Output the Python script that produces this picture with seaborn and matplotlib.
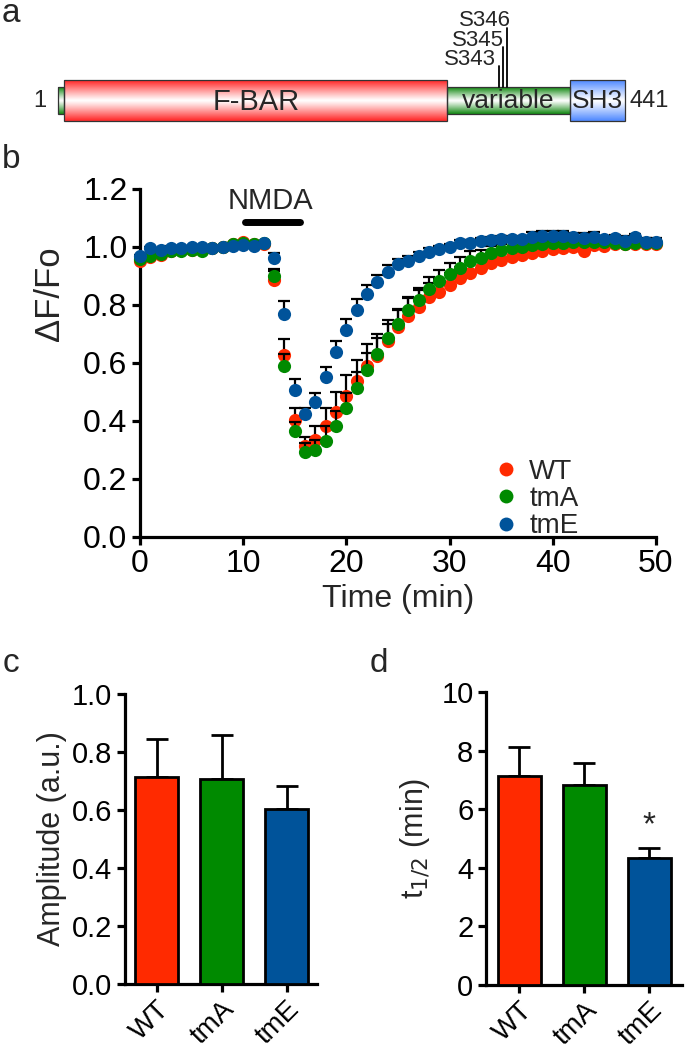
import numpy as np
import pandas as pd
import matplotlib
matplotlib.use("Agg")
import matplotlib.pyplot as plt
import seaborn as sns
from matplotlib.patches import Rectangle
from matplotlib.lines import Line2D
from matplotlib.ticker import FormatStrFormatter

sns.set_theme(style="ticks")
plt.rcParams["font.family"] = ["Liberation Sans", "DejaVu Sans"]

# ---------------- data ----------------
# panel a : domain map
protein_length = 441
domain_names = ["F-BAR", "variable", "SH3"]
domain_start = [6, 303, 398]
domain_end = [303, 398, 441]
site_names = ["S343", "S345", "S346"]
site_aa = [343, 345, 346]

# panel b : time course
time_min = list(range(51))
wt = [0.953, 0.964, 0.973, 0.985, 0.990, 0.990, 0.990, 0.995, 1.000, 1.010,
      1.016, 1.010, 1.010, 0.886, 0.628, 0.403, 0.314, 0.334, 0.383, 0.432,
      0.485, 0.538, 0.591, 0.625, 0.677, 0.723, 0.763, 0.792, 0.826, 0.846,
      0.869, 0.892, 0.912, 0.929, 0.946, 0.955, 0.964, 0.972, 0.981, 0.987,
      0.992, 0.995, 1.001, 0.985, 1.007, 1.005, 1.010, 1.010, 1.010, 1.010,
      1.010]
tma = [0.960, 0.969, 0.976, 0.985, 0.985, 0.990, 0.986, 0.995, 1.000, 1.010,
       1.013, 1.012, 1.013, 0.900, 0.590, 0.367, 0.292, 0.300, 0.332, 0.383,
       0.446, 0.513, 0.576, 0.632, 0.686, 0.733, 0.783, 0.817, 0.854, 0.883,
       0.907, 0.929, 0.952, 0.961, 0.978, 0.990, 0.998, 1.001, 1.007, 1.010,
       1.013, 1.015, 1.016, 1.018, 1.018, 1.018, 1.013, 1.010, 1.013, 1.013,
       1.013]
tme = [0.969, 0.995, 0.990, 0.998, 0.998, 1.001, 1.001, 0.998, 0.999, 1.004,
       1.007, 1.004, 1.013, 0.961, 0.768, 0.507, 0.424, 0.467, 0.553, 0.638,
       0.714, 0.783, 0.837, 0.879, 0.915, 0.940, 0.953, 0.969, 0.984, 0.992,
       1.001, 1.013, 1.015, 1.020, 1.024, 1.027, 1.027, 1.026, 1.036, 1.038,
       1.038, 1.039, 1.036, 1.030, 1.033, 1.027, 1.030, 1.022, 1.036, 1.018,
       1.016]
wt_sem = [0.005] * 13 + [0.030, 0.055, 0.041, 0.032, 0.049, 0.061, 0.067,
          0.075, 0.072, 0.073, 0.075, 0.070, 0.062, 0.060, 0.060, 0.050, 0.045,
          0.040, 0.038, 0.035, 0.030, 0.028, 0.025, 0.022, 0.020, 0.018, 0.016,
          0.015, 0.014, 0.013, 0.030, 0.015, 0.015, 0.014, 0.013, 0.013, 0.012,
          0.012]
tma_sem = [0.005] * 13 + [0.025, 0.040, 0.028, 0.033, 0.035, 0.050, 0.050,
           0.052, 0.057, 0.060, 0.053, 0.050, 0.050, 0.045, 0.043, 0.044, 0.038,
           0.037, 0.037, 0.033, 0.028, 0.025, 0.022, 0.020, 0.018, 0.016, 0.015,
           0.015, 0.014, 0.013, 0.013, 0.013, 0.013, 0.013, 0.013, 0.013, 0.013,
           0.013]
tme_sem = [0.004] * 13 + [0.020, 0.046, 0.038, 0.020, 0.028, 0.034, 0.038,
           0.039, 0.037, 0.032, 0.024, 0.023, 0.017, 0.017, 0.015, 0.012, 0.010,
           0.010, 0.010, 0.010, 0.010, 0.010, 0.010, 0.010, 0.010, 0.015, 0.017,
           0.017, 0.015, 0.012, 0.017, 0.020, 0.012, 0.013, 0.015, 0.010, 0.012,
           0.015]
nmda_on = 10.2
nmda_off = 15.5

# panels c, d
groups = ["WT", "tmA", "tmE"]
amplitude = [0.715, 0.706, 0.605]
amplitude_sem = [0.130, 0.153, 0.079]
t_half = [7.14, 6.84, 4.32]
t_half_sem = [0.99, 0.73, 0.37]

colors = {"WT": "#ff2a00", "tmA": "#008a00", "tmE": "#00539a"}

# ---------------- figure ----------------
W, H = 700, 1052
fig = plt.figure(figsize=(W / 100, H / 100), dpi=100)


def fax(l, t, r, b):
    return fig.add_axes([l / W, 1 - b / H, (r - l) / W, (b - t) / H])


def style_axis(ax, size, lw=2.3):
    for s in ["top", "right"]:
        ax.spines[s].set_visible(False)
    for s in ["left", "bottom"]:
        ax.spines[s].set_linewidth(lw)
        ax.spines[s].set_color("black")
    ax.tick_params(direction="out", length=6, width=lw, colors="black",
                   labelsize=size, pad=3)


# ---- panel a ----
axa = fax(0, 0, 700, 130)
px_per_aa = (625 - 58) / (protein_length - 1)
axa.set_xlim(1 - 58 / px_per_aa, 1 + (700 - 58) / px_per_aa)
axa.set_ylim(130, 0)
axa.axis("off")

base_cols = {"F-BAR": (1.0, 0.18, 0.18), "variable": (0.10, 0.55, 0.10),
             "SH3": (0.33, 0.55, 1.0)}
tall = (80, 121)
thin = (87, 114)


def grad_box(x0, x1, ytop, ybot, col):
    u = np.linspace(0, 1, 200)
    w = np.clip(np.abs(2 * u - 1) ** 1.1 * 1.05, 0, 1)
    c = np.array(col)
    img = (1 - w)[:, None] * np.array([1, 1, 1]) + w[:, None] * c
    img = img[:, None, :]
    axa.imshow(img, extent=(x0, x1, ybot, ytop), aspect="auto",
               interpolation="bilinear", zorder=2)
    axa.add_patch(Rectangle((x0, ytop), x1 - x0, ybot - ytop, fill=False,
                            edgecolor="#333333", lw=0.9, zorder=3))


grad_box(1, domain_start[0], thin[0], thin[1], base_cols["variable"])
dom_size = {"F-BAR": 21, "variable": 19, "SH3": 19}
for name, s, e in zip(domain_names, domain_start, domain_end):
    yt, yb = thin if name == "variable" else tall
    grad_box(s, e, yt, yb, base_cols[name])
    axa.text((s + e) / 2, (yt + yb) / 2 + 1, name, ha="center", va="center",
             fontsize=dom_size[name], zorder=4)

axa.text(1 - 12 / px_per_aa, 101, "1", ha="right", va="center", fontsize=17)
axa.text(protein_length + 5 / px_per_aa, 101, str(protein_length), ha="left",
         va="center", fontsize=17)

line_tops = [66, 47, 28]
text_base = [65, 45.5, 26]
for i, nm in enumerate(site_names):
    xl = site_aa[0] + 3.1 * i
    axa.plot([xl, xl], [thin[0], line_tops[i]], color="black", lw=1.3,
             zorder=5)
    axa.text(xl - 2.0 + 2.7 * i, text_base[i], nm, ha="right",
             va="baseline", fontsize=16)

# ---- panel b ----
axb = fax(140, 189, 656, 537)
df = pd.DataFrame({
    "Time": time_min * 3,
    "value": wt + tma + tme,
    "sem": wt_sem + tma_sem + tme_sem,
    "group": ["WT"] * 51 + ["tmA"] * 51 + ["tmE"] * 51,
})
for k, g in enumerate(groups):
    sub = df[df.group == g]
    axb.errorbar(sub.Time, sub.value, yerr=[np.zeros(len(sub)), sub["sem"]],
                 fmt="none", ecolor="black", elinewidth=1.6, capsize=4,
                 capthick=1.6, zorder=3 + 2 * k, clip_on=False)
    sns.scatterplot(data=sub, x="Time", y="value", color=colors[g], s=90,
                    linewidth=0, ax=axb, zorder=4 + 2 * k, clip_on=False,
                    legend=False)
axb.set_xlim(0, 50)
axb.set_ylim(0, 1.2)
axb.set_xticks([0, 10, 20, 30, 40, 50])
axb.set_yticks(np.arange(0, 1.21, 0.2))
axb.yaxis.set_major_formatter(FormatStrFormatter("%.1f"))
style_axis(axb, 23)
axb.set_xlabel("Time (min)", fontsize=23, labelpad=3)
axb.set_ylabel("\u0394F/Fo", fontsize=25)
axb.yaxis.set_label_coords(-0.143, 0.70)
axb.plot([nmda_on, nmda_off], [1.085, 1.085], color="black", lw=5,
         solid_capstyle="round", clip_on=False)
axb.text((nmda_on + nmda_off) / 2 - 0.2, 1.11, "NMDA", ha="center",
         va="bottom", fontsize=21)
handles = [Line2D([], [], marker="o", ls="none", color=colors[g],
                  markersize=10, markeredgewidth=0) for g in groups]
axb.legend(handles, groups, loc="upper left", bbox_to_anchor=(0.655, 0.265),
           frameon=False, fontsize=20, handletextpad=0.35, labelspacing=0.05,
           handlelength=1.0, borderpad=0)


def bar_panel(ax, values, sems, ylim, yticks, fmt, ylabel):
    dd = pd.DataFrame({"group": groups, "v": values})
    sns.barplot(data=dd, x="group", y="v", hue="group", palette=colors,
                order=groups, hue_order=groups, dodge=False, width=0.66,
                saturation=1, edgecolor="black", linewidth=2.0, legend=False,
                ax=ax, zorder=3)
    ax.errorbar(range(len(groups)), values,
                yerr=[np.zeros(len(values)), sems], fmt="none",
                ecolor="black", elinewidth=2.0, capsize=8, capthick=2.0,
                zorder=2, clip_on=False)
    ax.set_ylim(*ylim)
    ax.set_yticks(yticks)
    ax.yaxis.set_major_formatter(FormatStrFormatter(fmt))
    style_axis(ax, 21)
    ax.set_xlabel("")
    ax.set_ylabel(ylabel, fontsize=22)
    ax.set_xticks(range(len(groups)))
    ax.set_xticklabels(groups, rotation=45, ha="right",
                       rotation_mode="anchor", fontsize=20)


axc = fax(125, 694, 317, 984)
bar_panel(axc, amplitude, amplitude_sem, (0, 1.0),
          np.arange(0, 1.01, 0.2), "%.1f", "Amplitude (a.u.)")
axc.set_xlim(-0.49, 2.47)
axc.yaxis.set_label_coords(-0.30, 0.5)

axd = fax(486, 692, 682, 985)
bar_panel(axd, t_half, t_half_sem, (0, 10), np.arange(0, 11, 2), "%d",
          "t$_{1/2}$ (min)")
axd.set_xlim(-0.51, 2.5)
axd.yaxis.set_label_coords(-0.275, 0.5)
axd.text(2, t_half[2] + t_half_sem[2] + 0.2, "*", ha="center", va="bottom",
         fontsize=24)

# panel letters
for lab, x, y in [("a", 11, 14), ("b", 11, 160), ("c", 11, 664),
                  ("d", 379, 664)]:
    fig.text(x / W, 1 - y / H, lab, fontsize=24, ha="center", va="center")

fig.savefig("out.png", dpi=100)
